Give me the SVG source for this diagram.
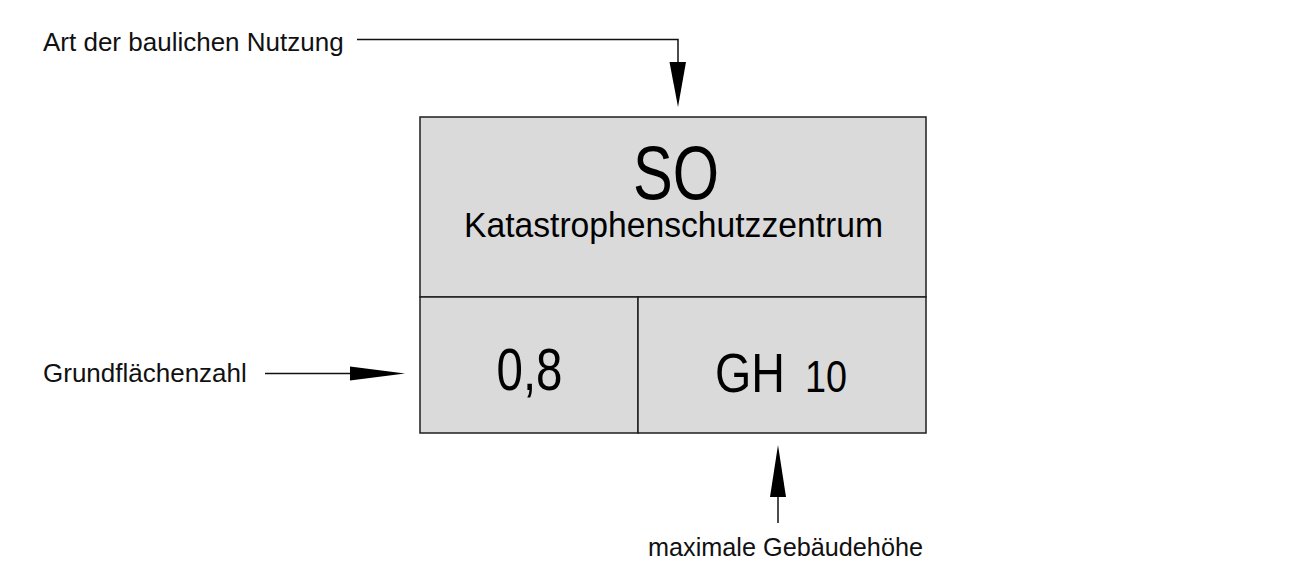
<svg xmlns="http://www.w3.org/2000/svg" width="1301" height="562" viewBox="0 0 1301 562">
  <style>
    .cell { fill: #dadada; stroke: #1e1e1e; stroke-width: 1.5; }
    .wire { fill: none; stroke: #111; stroke-width: 1.5; }
    .head { fill: #000; stroke: none; }
    .t { font-family: "Liberation Sans", Arial, sans-serif; fill: #000; }
    .lbl { font-size: 26px; fill: #111; }
  </style>
  <rect width="1301" height="562" fill="#fff"/>

  <!-- usage template box -->
  <g id="node-usage">
    <rect class="cell" x="420" y="117" width="506" height="180"/>
    <text class="t" x="676" y="199" font-size="76" text-anchor="middle" textLength="86" lengthAdjust="spacingAndGlyphs">SO</text>
    <text class="t" x="673.5" y="237" font-size="35" text-anchor="middle" textLength="419" lengthAdjust="spacingAndGlyphs">Katastrophenschutzzentrum</text>
  </g>
  <g id="node-grz">
    <rect class="cell" x="420" y="297" width="218" height="136"/>
    <text class="t" x="529.5" y="390" font-size="60" text-anchor="middle" textLength="66" lengthAdjust="spacingAndGlyphs">0,8</text>
  </g>
  <g id="node-height">
    <rect class="cell" x="638" y="297" width="288" height="136"/>
    <text class="t" x="715" y="391.5" font-size="56" textLength="70" lengthAdjust="spacingAndGlyphs">GH</text>
    <text class="t" x="805" y="391.5" font-size="44" textLength="42" lengthAdjust="spacingAndGlyphs">10</text>
  </g>

  <!-- labels -->
  <g id="label-art">
    <text class="t lbl" x="43" y="51">Art der baulichen Nutzung</text>
  </g>
  <g id="label-grz">
    <text class="t lbl" x="43" y="381.5">Grundflächenzahl</text>
  </g>
  <g id="label-height">
    <text class="t lbl" x="648" y="556" textLength="275" lengthAdjust="spacingAndGlyphs">maximale Gebäudehöhe</text>
  </g>

  <!-- leader lines with arrowheads -->
  <g id="connectors">
    <polyline class="wire" points="357,39.5 678,39.5 678,64"/>
    <polygon class="head" points="669.5,62 686,62 678,107"/>
    <line class="wire" x1="265" y1="373.5" x2="352" y2="373.5"/>
    <polygon class="head" points="350,366.5 350,380.5 405,373.5"/>
    <line class="wire" x1="778" y1="523" x2="778" y2="494"/>
    <polygon class="head" points="770,497 786,497 778,445"/>
  </g>
</svg>
